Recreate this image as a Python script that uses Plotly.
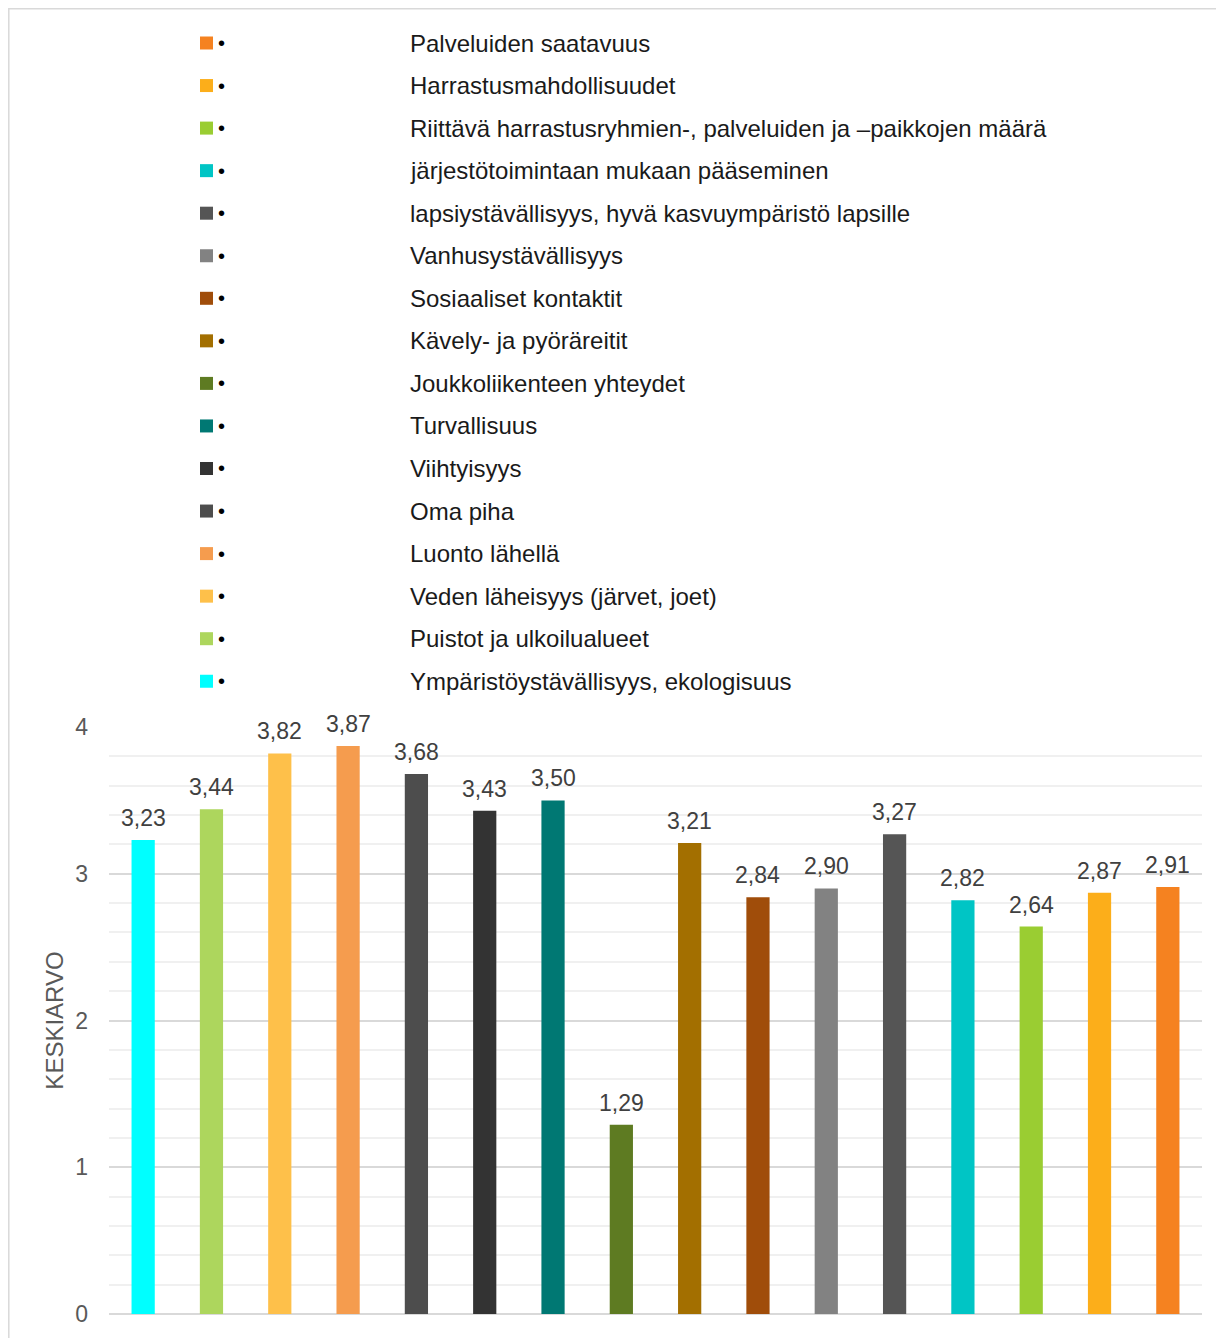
import plotly.graph_objects as go

categories = [
    "Ympäristöystävällisyys, ekologisuus",
    "Puistot ja ulkoilualueet",
    "Veden läheisyys (järvet, joet)",
    "Luonto lähellä",
    "Oma piha",
    "Viihtyisyys",
    "Turvallisuus",
    "Joukkoliikenteen yhteydet",
    "Kävely- ja pyöräreitit",
    "Sosiaaliset kontaktit",
    "Vanhusystävällisyys",
    "lapsiystävällisyys, hyvä kasvuympäristö lapsille",
    "järjestötoimintaan mukaan pääseminen",
    "Riittävä harrastusryhmien-, palveluiden ja –paikkojen määrä",
    "Harrastusmahdollisuudet",
    "Palveluiden saatavuus",
]
values = [3.23, 3.44, 3.82, 3.87, 3.68, 3.43, 3.50, 1.29, 3.21, 2.84, 2.90, 3.27, 2.82, 2.64, 2.87, 2.91]
colors = [
    "#00FFFF", "#ADD65D", "#FEC04A", "#F59C4E", "#4D4D4D", "#333333", "#007873", "#5E7B22",
    "#A36F00", "#A04D0A", "#828282", "#555555", "#00C5C5", "#9ACD32", "#FCAE1A", "#F58220",
]
y_ticks = [0, 1, 2, 3, 4]

FONT = "Liberation Sans, Arial, sans-serif"
W, H = 1224, 1338
OFF = 8  # page body margin offset
L, R, T, B = 109 - OFF, 1202 - OFF, 727 - OFF, 1314 - OFF

fig = go.Figure()
fig.add_trace(go.Bar(
    x=categories, y=values,
    marker=dict(color=colors, line=dict(width=0)),
    width=0.34,
    showlegend=False, hoverinfo="x+y",
))

# data labels
for cat, val in zip(categories, values):
    fig.add_annotation(x=cat, y=val, text=f"{val:.2f}".replace(".", ","),
                       showarrow=False, xanchor="center", yanchor="bottom", yshift=7,
                       font=dict(family=FONT, size=23, color="#404040"))

def px_x(px):
    return (px - OFF - L) / (R - L)

def px_y(py):
    return (B - (py - OFF)) / (B - T)

# outer chart border
fig.add_shape(type="rect", xref="paper", yref="paper",
              x0=px_x(8.8), x1=px_x(1222), y0=px_y(1345), y1=px_y(8.8),
              line=dict(color="#D9D9D9", width=1.5), fillcolor="rgba(0,0,0,0)", layer="below")

# custom legend (reverse order: last category first)
row0, step = 43, 42.55
for i, idx in enumerate(range(len(categories) - 1, -1, -1)):
    cy = row0 + i * step
    fig.add_shape(type="rect", xref="paper", yref="paper",
                  x0=px_x(200), x1=px_x(213), y0=px_y(cy + 6.5), y1=px_y(cy - 6.5),
                  fillcolor=colors[idx], line=dict(width=0))
    fig.add_annotation(xref="paper", yref="paper", x=px_x(216), y=px_y(cy),
                       text="•", showarrow=False, xanchor="left", yanchor="middle",
                       font=dict(family=FONT, size=20, color="#000000"))
    fig.add_annotation(xref="paper", yref="paper", x=px_x(408), y=px_y(cy),
                       text=categories[idx], showarrow=False, xanchor="left", yanchor="middle",
                       font=dict(family=FONT, size=24, color="#1a1a1a"))

fig.update_layout(
    width=W, height=H,
    margin=dict(l=L, r=W - R, t=T, b=H - B, autoexpand=False),
    paper_bgcolor="white", plot_bgcolor="white",
    font=dict(family=FONT),
    bargap=0.66,
    xaxis=dict(showticklabels=False, showgrid=False, zeroline=False, showline=False, ticks=""),
    yaxis=dict(
        range=[0, 4], tickvals=y_ticks,
        showgrid=True, gridcolor="#D9D9D9", gridwidth=1.5,
        minor=dict(dtick=0.2, showgrid=True, gridcolor="#F0F0F0", gridwidth=1.5),
        zeroline=True, zerolinecolor="#D9D9D9", zerolinewidth=1.5,
        showline=False, ticks="",
        tickfont=dict(family=FONT, size=23, color="#595959"),
        ticklabelstandoff=20,
        title=dict(text="KESKIARVO", font=dict(family=FONT, size=24, color="#595959"), standoff=4),
    ),
)

fig.write_html("out.html")
